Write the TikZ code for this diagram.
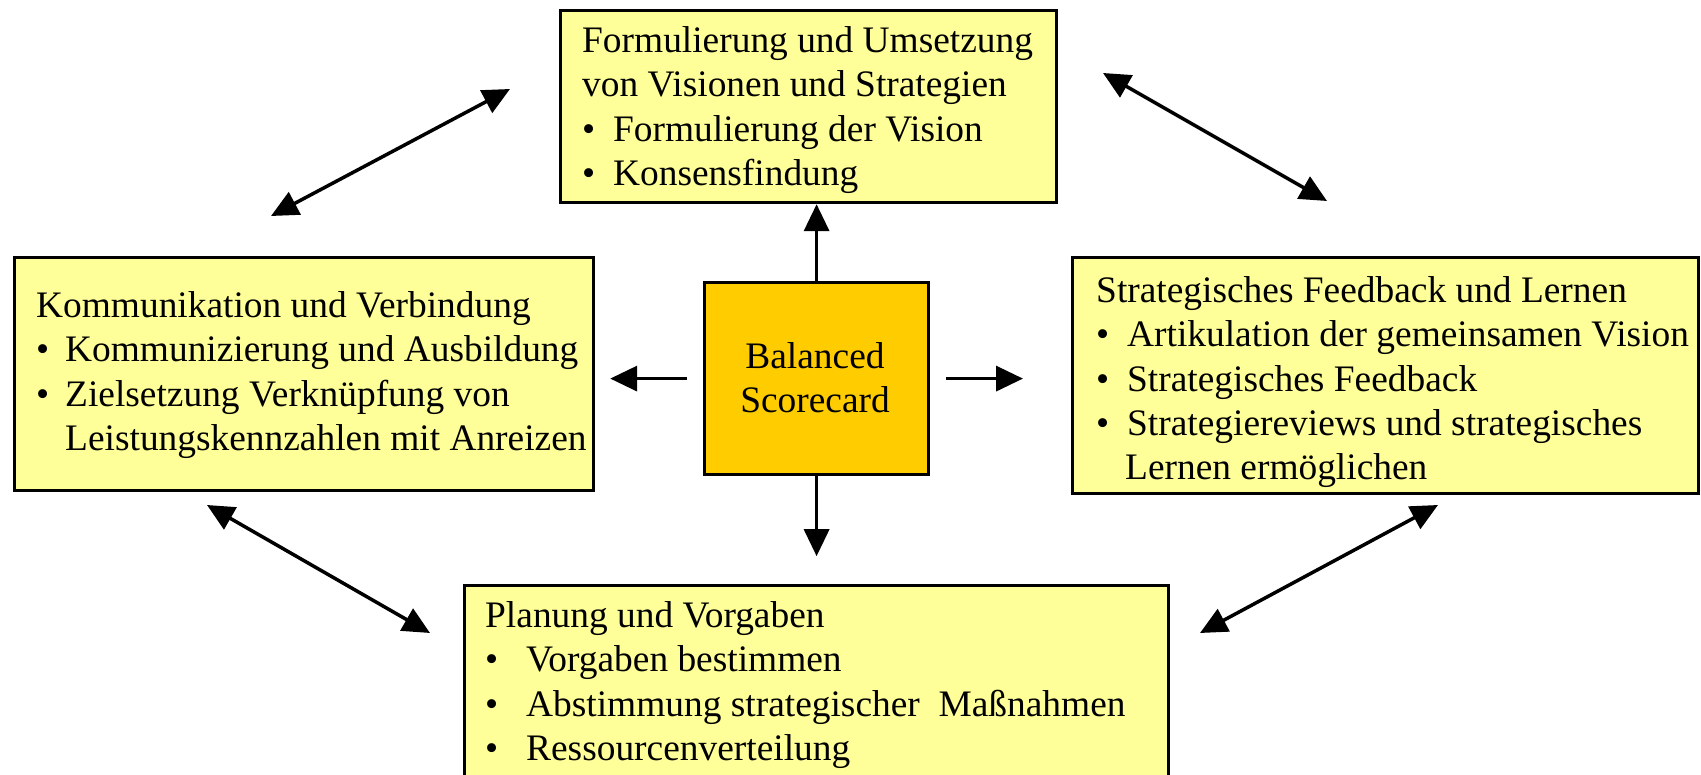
\documentclass[tikz,border=0pt]{standalone}
\usepackage{fontspec}
\setmainfont{Liberation Serif}
\usetikzlibrary{arrows.meta}
\definecolor{boxyellow}{HTML}{FFFF99}
\definecolor{coreyellow}{HTML}{FFCC00}
\begin{document}
\begin{tikzpicture}[x=1pt,y=-1pt,
  panel/.style={draw=black, line width=3.2pt, fill=boxyellow, anchor=north west, inner sep=0pt},
  core/.style={panel, fill=coreyellow},
  txt/.style={anchor=north west, inner sep=0pt, align=left, font=\fontsize{37.4}{44.4}\selectfont},
  tip/.tip={Triangle[length=27pt,width=25pt]},
  arr/.style={line width=3.5pt, -tip},
  darr/.style={line width=3.5pt, tip-tip}]
\useasboundingbox (0,0) rectangle (1701,775);
% boxes
\node[panel, minimum width=704pt, minimum height=260pt] (bottom) at (463,584) {};
\node[panel, minimum width=496pt, minimum height=192pt] (top) at (559,9) {};
\node[core, minimum width=224pt, minimum height=192pt] (ctr) at (703,281) {};
\node[panel, minimum width=579pt, minimum height=233pt] (left) at (13,256) {};
\node[panel, minimum width=626pt, minimum height=236pt] (right) at (1071,256) {};
% texts
\node[txt] (toptxt) at (582,21) {\strut Formulierung und Umsetzung\\
von Visionen und Strategien\\
\makebox[31pt][l]{\textbullet}Formulierung der Vision\\
\makebox[31pt][l]{\textbullet}Konsensfindung};
\node[txt, anchor=north, align=center] (ctrtxt) at (815,337) {\strut Balanced\\ Scorecard};
\node[txt] (lefttxt) at (36,286) {\strut Kommunikation und Verbindung\\
\makebox[29pt][l]{\textbullet}Kommunizierung und Ausbildung\\
\makebox[29pt][l]{\textbullet}Zielsetzung Verknüpfung von\\
\makebox[29pt][l]{}Leistungskennzahlen mit Anreizen};
\node[txt] (righttxt) at (1096,271) {\strut Strategisches Feedback und Lernen\\
\makebox[31pt][l]{\textbullet}Artikulation der gemeinsamen Vision\\
\makebox[31pt][l]{\textbullet}Strategisches Feedback\\
\makebox[31pt][l]{\textbullet}Strategiereviews und strategisches\\
\makebox[29pt][l]{}Lernen ermöglichen};
\node[txt] (bottomtxt) at (485,596) {\strut Planung und Vorgaben\\
\makebox[41pt][l]{\textbullet}Vorgaben bestimmen\\
\makebox[41pt][l]{\textbullet}Abstimmung strategischer\ \ Maßnahmen\\
\makebox[41pt][l]{\textbullet}Ressourcenverteilung};
% centre arrows
\draw[arr] (ctr.north) -- (ctr.north |- top.south);
\coordinate (dn) at ([yshift=-80pt]ctr.south);
\draw[arr] (ctr.south) -- (dn);
\draw[arr] ([xshift=-16pt]ctr.west) -- ([xshift=15pt]left.east |- ctr.west);
\draw[arr] ([xshift=16pt]ctr.east) -- ([xshift=-48pt]right.west |- ctr.east);
% diagonal arrows
\coordinate (a1) at (271,216); \coordinate (a2) at (510,89);
\coordinate (b1) at (1103,73); \coordinate (b2) at (1327,201);
\coordinate (c1) at (207,505); \coordinate (c2) at (430,633);
\coordinate (d1) at (1200,633); \coordinate (d2) at (1438,505);
\draw[darr] (a1) -- (a2);
\draw[darr] (b1) -- (b2);
\draw[darr] (c1) -- (c2);
\draw[darr] (d1) -- (d2);
\end{tikzpicture}
\end{document}
